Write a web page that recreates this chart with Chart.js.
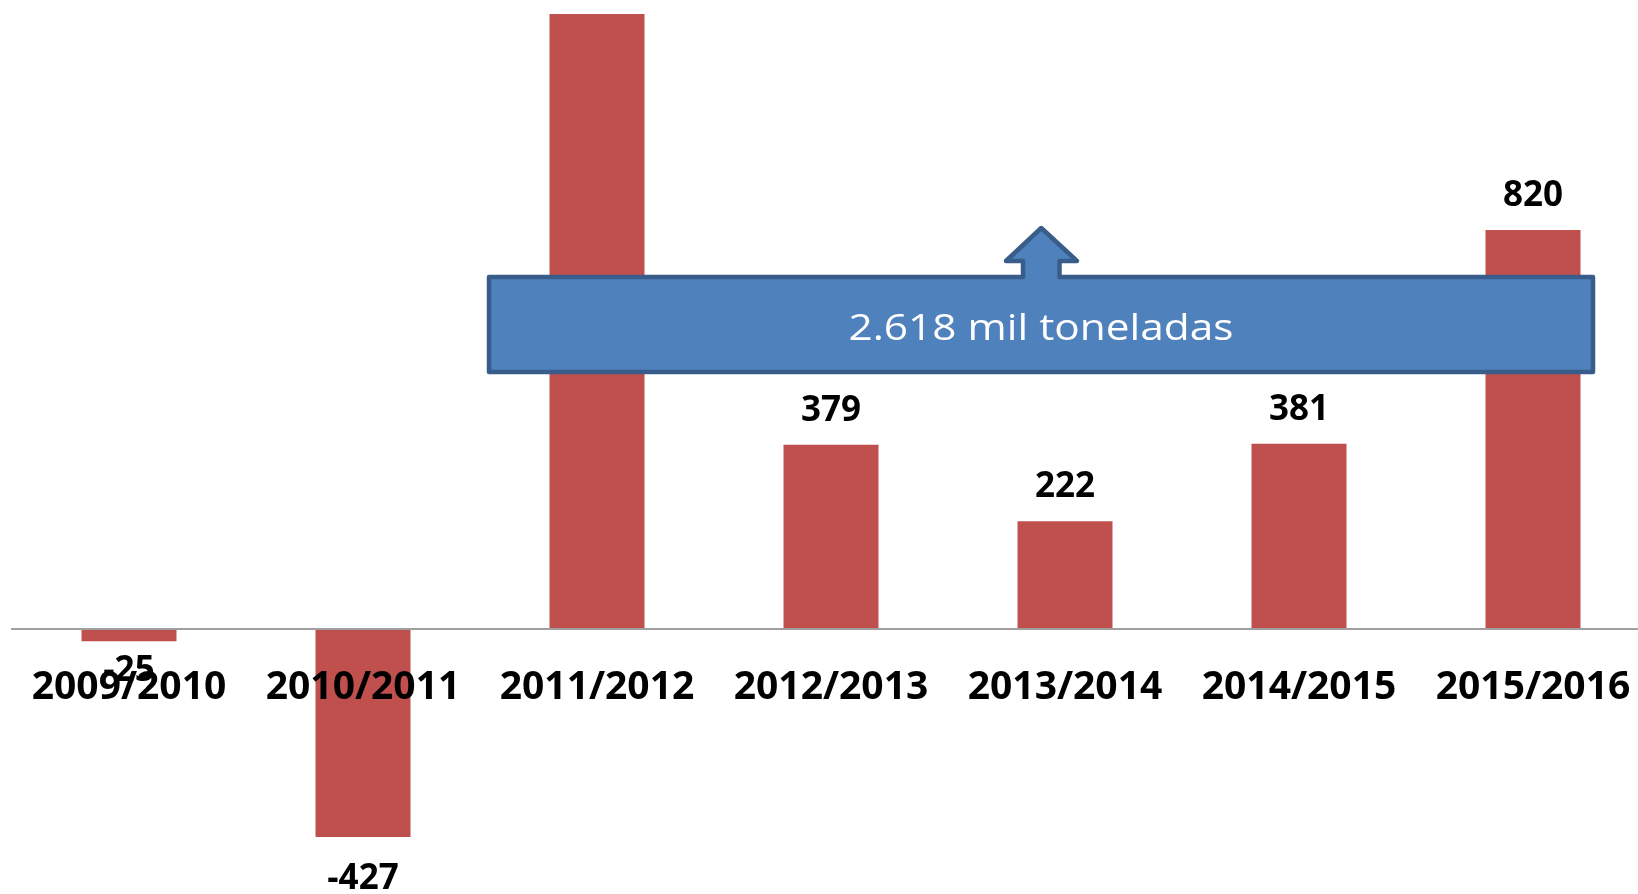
<!DOCTYPE html>
<html>
<head>
<meta charset="utf-8">
<script src="https://cdn.jsdelivr.net/npm/chart.js@4.4.0/dist/chart.umd.min.js"></script>
<style>
html,body{margin:0;padding:0;background:#fff;overflow:hidden;width:1638px;height:894px}
#wrap{position:absolute;left:0;top:0;width:1650px;height:894px}
</style>
</head>
<body>
<div id="wrap"><canvas id="c" width="1650" height="894"></canvas></div>
<script>
// ---- data ----
const categories = ['2009/2010','2010/2011','2011/2012','2012/2013','2013/2014','2014/2015','2015/2016'];
const values = [-25, -427, 1268, 379, 222, 381, 820];
const totalLabel = '2.618 mil toneladas';
const yMin = -540;
const yMax = 1264;

// ---- styling / placement (not data) ----
const labelNudge = {0: -12};

const valueLabels = {
  id: 'valueLabels',
  afterDatasetsDraw(chart) {
    const ctx = chart.ctx;
    const meta = chart.getDatasetMeta(0);
    ctx.save();
    ctx.font = 'bold 35px "Open Sans"';
    ctx.fillStyle = '#000';
    ctx.textAlign = 'center';
    ctx.textBaseline = 'middle';
    meta.data.forEach((bar, i) => {
      const v = values[i];
      const y = v >= 0 ? bar.y - 34 : bar.y + 42 + (labelNudge[i] || 0);
      ctx.fillText(String(v), bar.x, y);
    });
    ctx.restore();
  }
};

const callout = {
  id: 'callout',
  afterDraw(chart) {
    const ctx = chart.ctx;
    const L = 489, R = 1593, T = 277, B = 372;
    const sl = 1023, sr = 1059.5, hl = 1006, hr = 1077, hb = 261, tip = 228;
    const cx = (sl + sr) / 2;
    ctx.save();
    ctx.beginPath();
    ctx.moveTo(L, T);
    ctx.lineTo(sl, T);
    ctx.lineTo(sl, hb);
    ctx.lineTo(hl, hb);
    ctx.lineTo(cx, tip);
    ctx.lineTo(hr, hb);
    ctx.lineTo(sr, hb);
    ctx.lineTo(sr, T);
    ctx.lineTo(R, T);
    ctx.lineTo(R, B);
    ctx.lineTo(L, B);
    ctx.closePath();
    ctx.fillStyle = '#4f81bd';
    ctx.fill();
    ctx.lineJoin = 'round';
    ctx.lineWidth = 4.5;
    ctx.strokeStyle = '#385d8a';
    ctx.stroke();
    ctx.font = '37px "Open Sans"';
    ctx.fillStyle = '#ffffff';
    ctx.textAlign = 'center';
    ctx.textBaseline = 'middle';
    const w = ctx.measureText(totalLabel).width;
    const targetW = 385;
    ctx.translate((L + R) / 2, 329.5);
    ctx.scale(targetW / w, 1);
    ctx.fillText(totalLabel, 0, 0);
    ctx.restore();
  }
};

new Chart(document.getElementById('c'), {
  type: 'bar',
  data: {
    labels: categories,
    datasets: [{
      data: values,
      backgroundColor: '#c0504d',
      borderWidth: 0,
      barPercentage: 0.406,
      categoryPercentage: 1
    }]
  },
  options: {
    responsive: false,
    devicePixelRatio: 1,
    animation: false,
    layout: { padding: { left: 12, right: 0, top: 14, bottom: 2 } },
    plugins: { legend: { display: false }, tooltip: { enabled: false } },
    scales: {
      x: {
        position: { y: 0 },
        grid: { display: false, drawTicks: false },
        border: { display: true, color: '#a0a0a0', width: 2, z: 1 },
        ticks: {
          z: 1,
          font: { family: '"Open Sans"', weight: 'bold', size: 39, lineHeight: 1.2 },
          color: '#000',
          padding: 35,
          maxRotation: 0,
          autoSkip: false
        },
        afterFit(scale) {
          scale.height = 0;
          scale.paddingLeft = 0;
          scale.paddingRight = 0;
          scale.paddingTop = 0;
          scale.paddingBottom = 0;
        }
      },
      y: { display: false, min: yMin, max: yMax }
    }
  },
  plugins: [valueLabels, callout]
});
</script>
</body>
</html>
